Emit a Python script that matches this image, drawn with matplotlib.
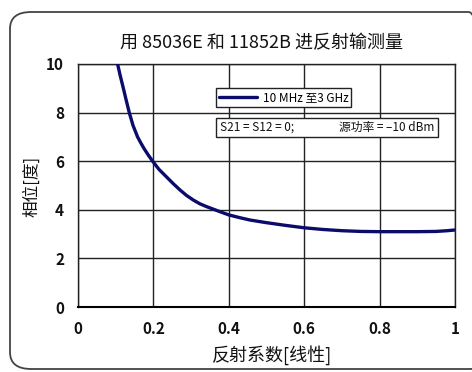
import matplotlib
matplotlib.use("Agg")
import matplotlib.pyplot as plt
from matplotlib.patches import FancyBboxPatch, Rectangle

plt.rcParams['font.family'] = ['Noto Sans CJK SC', 'DejaVu Sans']

title = "用 85036E 和 11852B 进反射输测量"
xlabel = "反射系数[线性]"
ylabel = "相位[度]"
series_name = "10 MHz 至3 GHz"
note_left = "S21 = S12 = 0;"
note_right = "源功率 = –10 dBm"

refl = [0.105, 0.112, 0.12, 0.128, 0.136, 0.146, 0.158, 0.167, 0.176, 0.187, 0.198, 0.215,
        0.235, 0.253, 0.271, 0.288, 0.306, 0.323, 0.341, 0.36, 0.377, 0.40, 0.428, 0.456,
        0.50, 0.55, 0.60, 0.65, 0.70, 0.75, 0.80, 0.85, 0.90, 0.95, 0.98, 1.0]
phase = [10.0, 9.52, 9.02, 8.5, 8.0, 7.47, 7.0, 6.74, 6.5, 6.24, 6.0, 5.66,
         5.35, 5.07, 4.81, 4.59, 4.40, 4.25, 4.13, 4.02, 3.92, 3.79, 3.68, 3.58,
         3.47, 3.36, 3.26, 3.19, 3.14, 3.11, 3.10, 3.10, 3.10, 3.11, 3.14, 3.17]
xticks = [0, 0.2, 0.4, 0.6, 0.8, 1]
xticklabels = ["0", "0.2", "0.4", "0.6", "0.8", "1"]
yticks = [0, 2, 4, 6, 8, 10]

W, H = 472, 372
fig = plt.figure(figsize=(W/100, H/100), dpi=100)

# rounded frame
frame = FancyBboxPatch((10/W, 3/H), 480/W, 357/H, boxstyle="round,pad=0,rounding_size=0.045",
                       transform=fig.transFigure, fill=False, edgecolor="#444444", linewidth=1.3,
                       clip_on=False)
fig.patches.append(frame)

ax = fig.add_axes([78/W, (H-307)/H, (455-78)/W, (307-64)/H])
ax.plot(refl, phase, color="#0b0b6b", linewidth=2.4, solid_capstyle="round",
        solid_joinstyle="round", label=series_name, zorder=3)
ax.set_xlim(0, 1)
ax.set_ylim(0, 10)
ax.set_xticks(xticks)
ax.set_xticklabels(xticklabels)
ax.set_yticks(yticks)
ax.grid(True, color="#222222", linewidth=1.0)
ax.tick_params(length=0, labelsize=11, pad=10, colors="#111111")
for lab in ax.get_xticklabels() + ax.get_yticklabels():
    lab.set_fontweight("bold")
for s in ax.spines.values():
    s.set_color("#222222")
    s.set_linewidth(1.0)
ax.spines['bottom'].set_linewidth(1.5)
ax.spines['bottom'].set_color("#000000")

fig.text(261/W, 1-43/H, title, ha="center", va="center", fontsize=13, color="#111111")
fig.text(272/W, 1-355/H, xlabel, ha="center", va="center", fontsize=13, color="#111111")
fig.text(32/W, 1-186/H, ylabel, ha="center", va="center", fontsize=12, rotation=90,
         color="#111111")

leg = ax.legend(loc="upper left", bbox_to_anchor=((216-78)/377, (307-88)/243), frameon=True,
                fancybox=False, edgecolor="#222222", framealpha=1, fontsize=8.5,
                handlelength=3.2, handletextpad=0.5, borderpad=0.25, borderaxespad=0)
leg.get_frame().set_linewidth(1.0)

# note box
x0 = (216-78)/377
x1 = (438-78)/377
yb = (307-137)/243
yt = (307-118)/243
ax.add_patch(Rectangle((x0, yb), x1-x0, yt-yb, transform=ax.transAxes, facecolor="white",
                       edgecolor="#222222", linewidth=1.0, zorder=5))
ax.text(x0 + 4/377, (yb+yt)/2, note_left, transform=ax.transAxes, ha="left", va="center",
        fontsize=8.5, zorder=6, color="#111111")
ax.text(x1 - 4/377, (yb+yt)/2, note_right, transform=ax.transAxes, ha="right", va="center",
        fontsize=8.5, zorder=6, color="#111111")

fig.savefig("out.png", dpi=100)
